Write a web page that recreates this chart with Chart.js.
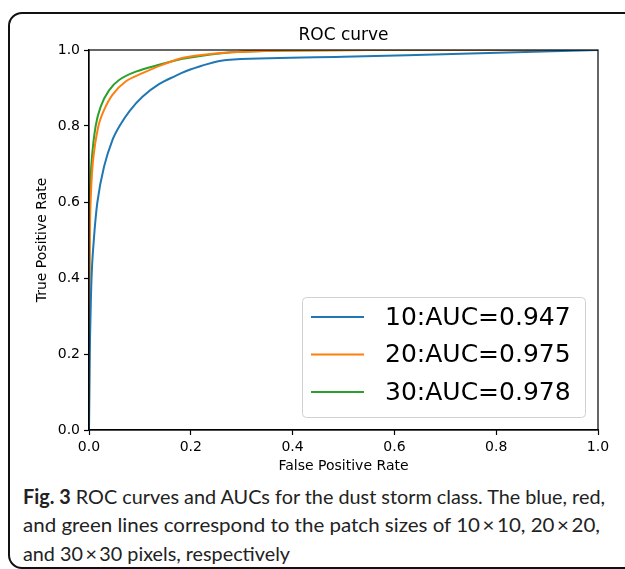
<!DOCTYPE html>
<html>
<head>
<meta charset="utf-8">
<script src="https://cdn.jsdelivr.net/npm/chart.js@4"></script>
<style>
  body { margin: 0; background: #fff; width: 625px; height: 569px; overflow: hidden; position: relative; }
  #frame { position: absolute; left: 8px; top: 12px; width: 700px; height: 553px; border: 2px solid #111; border-radius: 14px; }
  #roc { position: absolute; left: 0; top: 0; }
  .cap { position: absolute; left: 23px; font-family: Lato, "Open Sans", sans-serif; font-size: 20px; color: #222; white-space: nowrap; transform-origin: 0 50%; }
</style>
</head>
<body>
<div id="frame"></div>
<canvas id="roc" width="625" height="480"></canvas>
<div class="cap" style="top:484px"><b>Fig. 3</b> ROC curves and AUCs for the dust storm class. The blue, red,</div>
<div class="cap" style="top:512px">and green lines correspond to the patch sizes of 10&#8201;×&#8201;10, 20&#8201;×&#8201;20,</div>
<div class="cap" style="top:541px">and 30&#8201;×&#8201;30 pixels, respectively</div>
<script>
// values
const fpr10 = [0, 0.0015, 0.003, 0.005, 0.008, 0.0165, 0.0295, 0.046, 0.06, 0.08, 0.105, 0.1375, 0.17, 0.19, 0.22, 0.27, 0.5, 0.75, 1.0]
const tpr10 = [0, 0.2, 0.3, 0.4, 0.474, 0.6, 0.693, 0.763, 0.8, 0.84, 0.877, 0.91, 0.932, 0.944, 0.958, 0.974, 0.982, 0.991, 1.0]

const fpr20 = [0, 0.0007, 0.0015, 0.0033, 0.008, 0.0185, 0.0295, 0.046, 0.072, 0.105, 0.144, 0.19, 0.28, 0.4, 0.7, 1.0]
const tpr20 = [0, 0.3, 0.5, 0.605, 0.71, 0.8, 0.842, 0.882, 0.917, 0.939, 0.961, 0.981, 0.994, 0.999, 1.0, 1.0]

const fpr30 = [0, 0.0005, 0.001, 0.0014, 0.0053, 0.0131, 0.023, 0.039, 0.059, 0.092, 0.1375, 0.19, 0.28, 0.4, 0.7, 1.0]
const tpr30 = [0, 0.3, 0.5, 0.605, 0.71, 0.8, 0.851, 0.893, 0.921, 0.943, 0.961, 0.978, 0.994, 0.999, 1.0, 1.0]

const seriesLabels = ['10:AUC=0.947', '20:AUC=0.975', '30:AUC=0.978']
const seriesColors = ['#1f77b4', '#ff7f0e', '#2ca02c']
const tickValues = [0, 0.2, 0.4, 0.6, 0.8, 1.0]

const pts = (xs, ys) => xs.map((x, i) => ({x: x, y: ys[i]}))
const series = [pts(fpr10, tpr10), pts(fpr20, tpr20), pts(fpr30, tpr30)]

const data = {
    datasets: series.map((s, i) => ({
        label: seriesLabels[i],
        data: s,
        borderColor: seriesColors[i],
        backgroundColor: seriesColors[i],
        borderWidth: 2,
        pointRadius: 0,
        tension: 0.35,
        fill: false
    }))
}

const font = 'DejaVu Sans'

// top and right spines
const boxPlugin = {
    id: 'box',
    afterDraw(chart) {
        const {ctx, chartArea: a} = chart
        ctx.save()
        ctx.strokeStyle = '#000'
        ctx.lineWidth = 1.2
        ctx.strokeRect(a.left, a.top, a.right - a.left, a.bottom - a.top)
        ctx.restore()
    }
}

// matplotlib style legend in the lower right
const legendPlugin = {
    id: 'mplLegend',
    afterDraw(chart) {
        const {ctx, chartArea: a} = chart
        const w = 283, h = 120
        const x = a.right - 13 - w, y = a.bottom - 13 - h
        ctx.save()
        ctx.fillStyle = 'rgba(255,255,255,0.85)'
        ctx.strokeStyle = '#d0d0d0'
        ctx.lineWidth = 1
        ctx.beginPath()
        ctx.roundRect(x + 0.5, y + 0.5, w, h, 4)
        ctx.fill()
        ctx.stroke()
        ctx.font = '25px "' + font + '"'
        ctx.textBaseline = 'middle'
        chart.data.datasets.forEach((ds, i) => {
            const ry = y + 20 + i * 37.5
            ctx.strokeStyle = ds.borderColor
            ctx.lineWidth = 2
            ctx.beginPath()
            ctx.moveTo(x + 9, ry)
            ctx.lineTo(x + 62, ry)
            ctx.stroke()
            ctx.fillStyle = '#000'
            ctx.fillText(ds.label, x + 83, ry + 1)
        })
        ctx.restore()
    }
}

const tickOpts = {
    color: '#000',
    font: {family: font, size: 14},
    padding: 4,
    autoSkip: false,
    callback: v => Number(v).toFixed(1)
}

const config = {
    type: 'line',
    data,
    options: {
        responsive: false,
        animation: false,
        layout: {padding: {left: 0, right: 27, top: 0, bottom: 0}},
        plugins: {
            legend: {display: false},
            tooltip: {enabled: false},
            title: {
                display: true,
                text: 'ROC curve',
                fullSize: false,
                color: '#000',
                font: {family: font, size: 17, weight: 'normal'},
                padding: {top: 25, bottom: 4.6}
            }
        },
        scales: {
            x: {
                type: 'linear',
                min: 0,
                max: 1,
                afterBuildTicks: s => { s.ticks = tickValues.map(v => ({value: v})) },
                afterFit: s => { s.height = 50 },
                ticks: tickOpts,
                grid: {drawOnChartArea: false, drawTicks: true, tickLength: 5, color: '#000', tickWidth: 1.2},
                border: {display: true, color: '#000', width: 1.2},
                title: {display: true, text: 'False Positive Rate', color: '#000',
                        font: {family: font, size: 14}, padding: {top: 0, bottom: 5.6}}
            },
            y: {
                type: 'linear',
                min: 0,
                max: 1,
                afterBuildTicks: s => { s.ticks = tickValues.map(v => ({value: v})) },
                afterFit: s => { s.width = 89 },
                ticks: tickOpts,
                grid: {drawOnChartArea: false, drawTicks: true, tickLength: 5, color: '#000', tickWidth: 1.2},
                border: {display: true, color: '#000', width: 1.2},
                title: {display: true, text: 'True Positive Rate', color: '#000',
                        font: {family: font, size: 14}, padding: {top: 33.6, bottom: 0}}
            }
        }
    },
    plugins: [boxPlugin, legendPlugin]
}

const rocChart = new Chart(document.getElementById('roc'), config)

// squeeze caption lines to the widths of the original
const capWidths = [582, 577, 267]
document.querySelectorAll('.cap').forEach((el, i) => {
    const w = el.getBoundingClientRect().width
    el.style.transform = 'scaleX(' + (capWidths[i] / w) + ')'
})
</script>
</body>
</html>
